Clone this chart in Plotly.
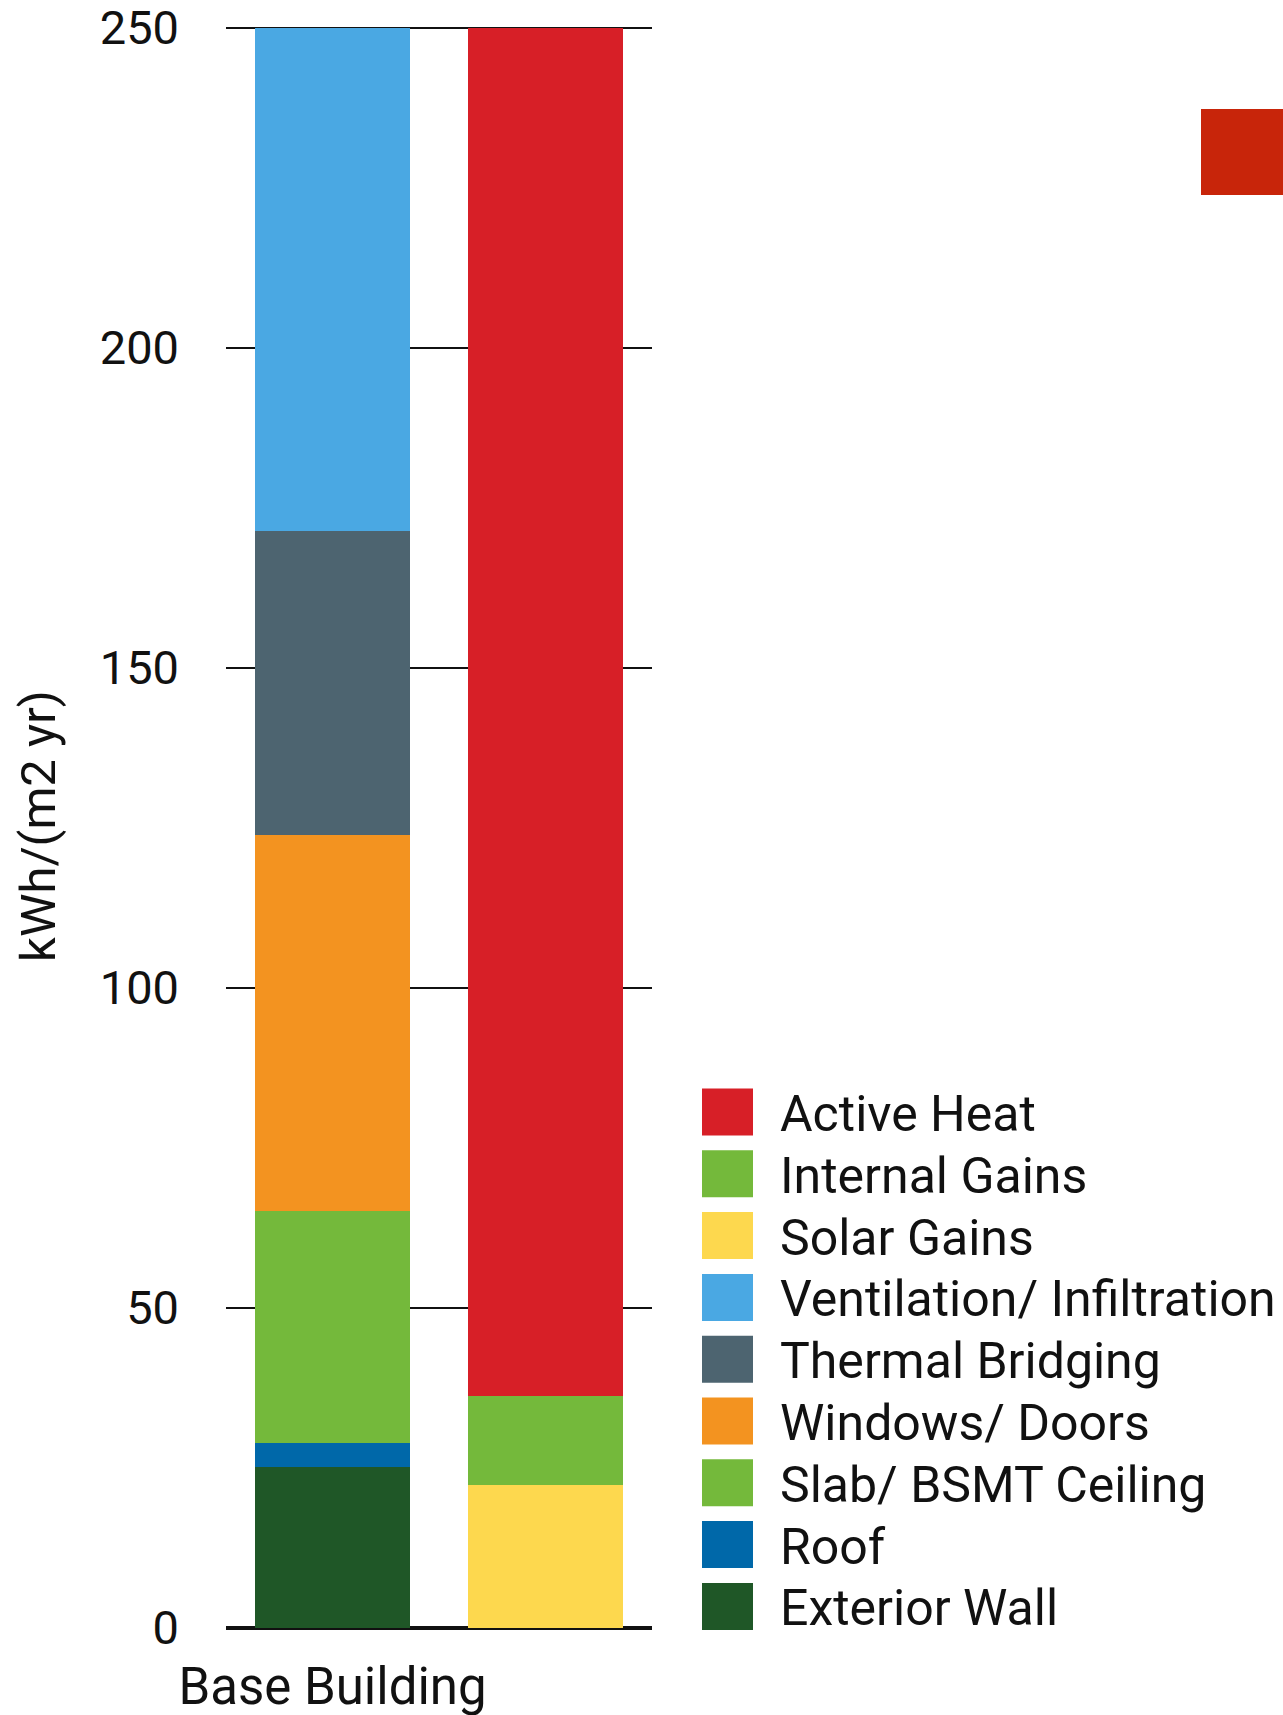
import plotly.graph_objects as go

# ---- data ----
categories = ["Base Building", ""]
series_names = ["Exterior Wall", "Roof", "Slab/ BSMT Ceiling", "Windows/ Doors",
                "Thermal Bridging", "Ventilation/ Infiltration", "Solar Gains",
                "Internal Gains", "Active Heat"]
exterior_wall = [25.1, 0]
roof = [3.8, 0]
slab_bsmt = [36.2, 0]
windows_doors = [58.8, 0]
thermal_bridging = [47.5, 0]
ventilation = [78.6, 0]
solar_gains = [0, 22.3]
internal_gains = [0, 14.0]
active_heat = [0, 213.7]
y_ticks = [0, 50, 100, 150, 200, 250]

colors = ["#1F5727", "#0068A9", "#74B93B", "#F39320", "#4D6470",
          "#4AA8E3", "#FDD84E", "#74B93B", "#D71F27"]
values = [exterior_wall, roof, slab_bsmt, windows_doors, thermal_bridging,
          ventilation, solar_gains, internal_gains, active_heat]

FONT = "Roboto"
W, H = 1283, 1715
PX_PER_UNIT = 1600 / 250
L, R, T, B = 226, 652, 24, 1628  # plot area in px (top padded so 250 gridline shows)
Y_MAX = 250 + (28 - T) / PX_PER_UNIT


def px_x(p):
    return (p - L) / (R - L)


def px_y(p):
    return (B - p) / (B - T)


fig = go.Figure()
x_pos = list(range(len(categories)))
for name, vals, col in zip(series_names, values, colors):
    fig.add_trace(go.Bar(x=x_pos, y=vals, name=name, marker=dict(color=col, line=dict(width=0)),
                         showlegend=False))

# custom legend (large swatches) top-to-bottom = reversed trace order
shapes = []
annotations = []
row0 = 1112
step = 61.8
for i, (name, col) in enumerate(zip(series_names[::-1], colors[::-1])):
    cy = row0 + i * step
    shapes.append(dict(type="rect", xref="paper", yref="paper",
                       x0=px_x(702), x1=px_x(753), y0=px_y(cy + 23.5), y1=px_y(cy - 23.5),
                       fillcolor=col, line=dict(width=0)))
    annotations.append(dict(xref="paper", yref="paper", x=px_x(778), y=px_y(cy + 2),
                            text=name, showarrow=False, xanchor="left", yanchor="middle",
                            font=dict(family=FONT, size=50, color="#111111")))

# decorative red block at top right
shapes.append(dict(type="rect", xref="paper", yref="paper",
                   x0=px_x(1201), x1=px_x(1300), y0=px_y(195), y1=px_y(109),
                   fillcolor="#C8250A", line=dict(width=0)))

fig.update_layout(
    width=W, height=H,
    margin=dict(l=L, r=W - R, t=T, b=H - B, autoexpand=False),
    barmode="stack", bargap=0.272,
    plot_bgcolor="white", paper_bgcolor="white",
    font=dict(family=FONT, size=46, color="#111111"),
    shapes=shapes, annotations=annotations,
    showlegend=False,
)
fig.update_xaxes(range=[-0.5, 1.5], tickvals=x_pos, ticktext=categories,
                 showgrid=False, zeroline=False, showline=False, ticks="",
                 ticklabelstandoff=24, tickfont=dict(family=FONT, size=51))
fig.update_yaxes(range=[0, Y_MAX], tickvals=y_ticks, showgrid=True, gridcolor="#111111",
                 gridwidth=1.5, zeroline=True, zerolinecolor="#111111", zerolinewidth=3.5,
                 showline=False, ticks="", ticklabelstandoff=46,
                 tickfont=dict(family=FONT, size=47),
                 title=dict(text="kWh/(m2 yr)", standoff=28, font=dict(family=FONT, size=49)))

fig.write_html("out.html")
